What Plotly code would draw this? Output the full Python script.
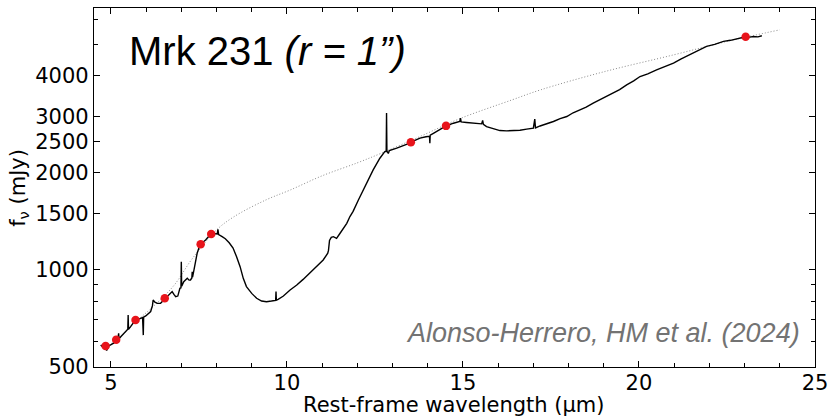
import plotly.graph_objects as go

# ---- spectrum (rest-frame wavelength in micron, flux density in mJy) ----
spec_wave = [4.71, 4.78, 4.85, 4.88, 4.94, 5.02, 5.09, 5.15, 5.20, 5.22, 5.23, 5.28, 5.35,
             5.42, 5.48, 5.49, 5.50, 5.56, 5.63, 5.70, 5.77, 5.84, 5.90, 5.92, 5.93, 5.99,
             6.06, 6.13, 6.18, 6.20, 6.25, 6.32, 6.41, 6.47, 6.53, 6.60, 6.65, 6.70, 6.74,
             6.79, 6.84, 6.90, 6.96, 6.99, 7.00, 7.01, 7.07, 7.12, 7.17, 7.22, 7.26, 7.30,
             7.31, 7.32, 7.36, 7.41, 7.45, 7.50, 7.55, 7.62, 7.69, 7.77, 7.85, 7.93, 8.02,
             8.04, 8.06, 8.16, 8.25, 8.36, 8.47, 8.57, 8.67, 8.76, 8.85, 9.00, 9.14, 9.28,
             9.42, 9.56, 9.68, 9.69, 9.70, 9.75, 9.90, 10.09, 10.28, 10.46, 10.65, 10.84,
             11.03, 11.16, 11.18, 11.21, 11.26, 11.32, 11.41, 11.51, 11.60, 11.70, 11.79,
             11.88, 12.03, 12.17, 12.31, 12.45, 12.64, 12.78, 12.82, 12.83, 12.84, 12.88,
             12.91, 13.12, 13.31, 13.49, 13.62, 13.78, 13.95, 14.05, 14.06, 14.07, 14.16,
             14.34, 14.52, 14.73, 14.91, 14.93, 14.95, 15.10, 15.29, 15.53, 15.56, 15.58,
             15.67, 15.86, 16.05, 16.24, 16.43, 16.62, 16.81, 17.00, 17.04, 17.06, 17.19,
             17.38, 17.57, 17.76, 17.95, 18.13, 18.32, 18.50, 18.70, 18.98, 19.27, 19.45,
             19.65, 19.85, 20.03, 20.25, 20.50, 20.75, 20.98, 21.20, 21.45, 21.65, 21.92,
             22.15, 22.40, 22.60, 22.78, 22.90, 23.03, 23.15, 23.25, 23.38, 23.49]
spec_flux = [585, 575, 574, 563, 581, 588, 594, 607, 612, 636, 612, 621, 632,
             644, 655, 725, 655, 667, 682, 700, 703, 708, 712, 628, 714, 720,
             730, 743, 775, 807, 795, 788, 788, 800, 817, 828, 836, 850, 857,
             840, 826, 830, 877, 880, 1061, 890, 920, 935, 942, 930, 931, 945,
             988, 950, 1000, 1070, 1127, 1170, 1202, 1222, 1239, 1268, 1293, 1298, 1293,
             1337, 1288, 1269, 1250, 1215, 1170, 1099, 1024, 942, 888, 846, 817, 801,
             797, 801, 805, 857, 806, 811, 830, 867, 898, 935, 977, 1024,
             1074, 1127, 1150, 1235, 1262, 1269, 1254, 1300, 1346, 1396, 1465,
             1520, 1649, 1771, 1903, 2045, 2222, 2331, 2335, 3067, 2340, 2300,
             2348, 2388, 2428, 2474, 2520, 2565, 2590, 2600, 2474, 2620, 2655,
             2720, 2798, 2854, 2889, 2958, 2880, 2868, 2854, 2841, 2910, 2830,
             2786, 2741, 2708, 2702, 2708, 2715, 2735, 2754, 2938, 2760, 2798,
             2841, 2889, 2950, 2993, 3075, 3141, 3200, 3293, 3420, 3538, 3630,
             3754, 3860, 3984, 4060, 4178, 4290, 4384, 4520, 4654, 4760, 4939,
             5010, 5120, 5160, 5217, 5240, 5292, 5280, 5304, 5290, 5330]

# ---- model (dotted) ----
model_wave = [4.8, 5.2, 5.7, 6.2, 6.8, 7.3, 8.0, 8.5, 9.4, 10.1, 11.0, 12.0, 12.7,
              13.8, 14.9, 16.4, 17.2, 19.0, 21.0, 22.5, 24.0]
model_flux = [572, 612, 690, 770, 898, 1080, 1331, 1464, 1649, 1772, 1960, 2150, 2308,
              2600, 2945, 3373, 3620, 4120, 4655, 5120, 5560]

# ---- photometric points (red) ----
phot_wave = [4.85, 5.15, 5.70, 6.53, 7.55, 7.85, 13.52, 14.52, 23.03]
phot_flux = [581, 607, 700, 817, 1202, 1294, 2492, 2800, 5292]

# ---- axis ticks ----
y_major = [500, 1000, 1500, 2000, 2500, 3000, 4000]
y_major_text = ["500", "1000", "1500", "2000", "2500", "3000", "4000"]
y_minor = [600, 700, 800, 900, 5000, 6000]
x_major = [5, 10, 15, 20, 25]

fig = go.Figure()
fig.add_trace(go.Scatter(x=model_wave, y=model_flux, mode="lines",
                         line=dict(color="#8a8a8a", width=1, dash="1px,2px", shape="spline"),
                         hoverinfo="skip", showlegend=False))
fig.add_trace(go.Scatter(x=spec_wave, y=spec_flux, mode="lines",
                         line=dict(color="black", width=1.4),
                         showlegend=False))
fig.add_trace(go.Scatter(x=phot_wave, y=phot_flux, mode="markers",
                         marker=dict(color="#e8141b", size=8.5, line=dict(width=0)),
                         showlegend=False))

tick_font = dict(family="DejaVu Sans", size=21, color="black")

fig.update_layout(
    width=831, height=418,
    margin=dict(l=94, r=16, t=8, b=51),
    paper_bgcolor="white", plot_bgcolor="white",
    font=tick_font,
    xaxis=dict(range=[4.52, 25.0], tickvals=x_major, ticks="inside", ticklen=6,
               tickwidth=1, tickcolor="black", showline=True, linecolor="black",
               linewidth=1.2, mirror="ticks", showgrid=False, zeroline=False,
               tickfont=tick_font, automargin=False, ticklabelstandoff=-3,
               minor=dict(dtick=1, tick0=0, ticks="inside", ticklen=3.5,
                          tickcolor="black", tickwidth=1, showgrid=False)),
    yaxis=dict(type="log", range=[2.69897, 3.8129], tickvals=y_major, ticktext=y_major_text,
               ticks="inside", ticklen=6, tickwidth=1, tickcolor="black",
               showline=True, linecolor="black", linewidth=1.2, mirror="ticks",
               showgrid=False, zeroline=False, tickfont=tick_font, automargin=False,
               minor=dict(tickvals=y_minor, ticks="inside", ticklen=3.5,
                          tickcolor="black", tickwidth=1, showgrid=False)),
    annotations=[
        dict(text="Mrk 231 <i>(r = 1”)</i>", xref="paper", yref="paper",
             x=0.046, y=0.88, xanchor="left", yanchor="middle", showarrow=False,
             font=dict(family="Liberation Sans", size=40, color="black")),
        dict(text="<i>Alonso-Herrero, HM et al. (2024)</i>", xref="paper", yref="paper",
             x=0.982, y=0.095, xanchor="right", yanchor="middle", showarrow=False,
             font=dict(family="Liberation Sans", size=27, color="#737373")),
        dict(text="Rest-frame wavelength (μm)", xref="paper", yref="paper",
             x=0.4986, y=-0.107, xanchor="center", yanchor="middle", showarrow=False,
             font=tick_font),
        dict(text="f<sub>ν</sub> (mJy)", xref="paper", yref="paper", textangle=-90,
             x=-0.105, y=0.50, xanchor="center", yanchor="middle", showarrow=False,
             font=tick_font),
    ],
)

fig.write_html("out.html", config={"displayModeBar": False},
               post_script="document.body.style.margin='0';document.body.style.overflow='hidden';")
